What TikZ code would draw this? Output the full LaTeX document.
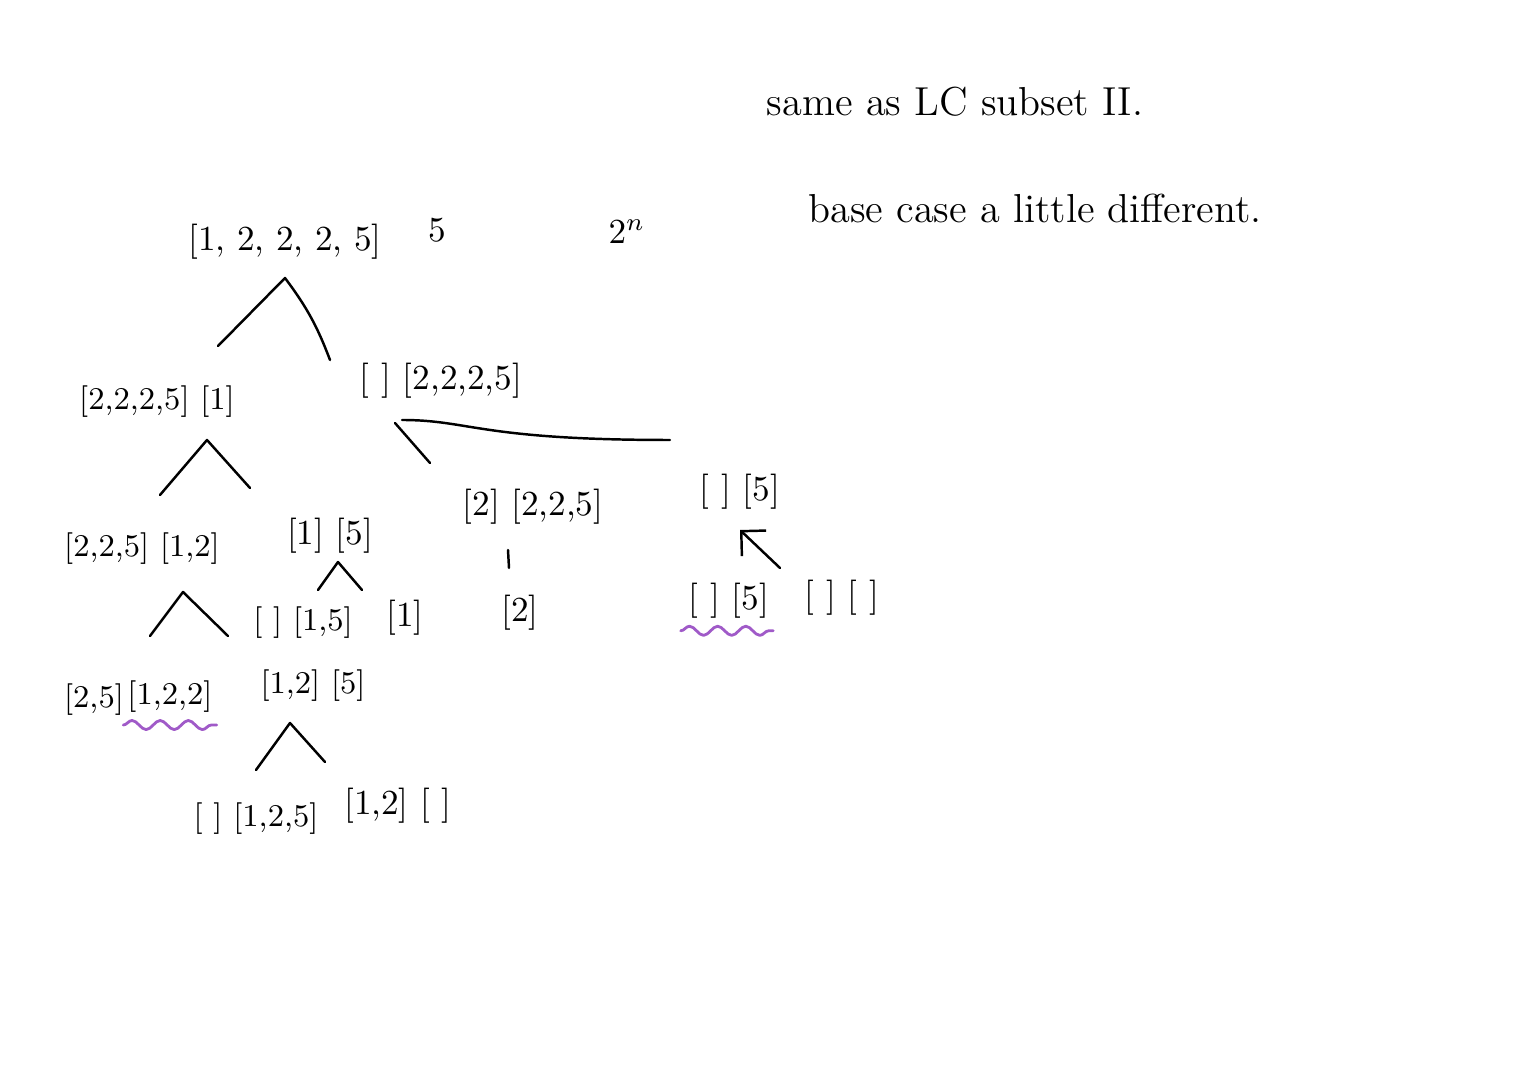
\documentclass[tikz,border=0pt]{standalone}
\usetikzlibrary{calc,arrows.meta,decorations.pathmorphing}
\definecolor{wavy}{RGB}{160,90,200}
\tikzset{
  lst/.style={inner sep=1pt,font=\fontsize{10}{12}\selectfont},
  small/.style={inner sep=1pt,font=\fontsize{9}{11}\selectfont},
  note/.style={inner sep=1pt,font=\fontsize{11.5}{14}\selectfont},
  edge/.style={line width=0.7pt},
  wave/.style={wavy,line width=0.8pt,decorate,decoration={snake,amplitude=1.3pt,segment length=8pt}}
}
\begin{document}
\begin{tikzpicture}[x=0.01cm,y=-0.01cm,line join=round,line cap=round,>={Straight Barb[length=5pt]}]
\useasboundingbox (0,0) rectangle (1527,1080);
% notes
\node[note](same) at (955,102) {same as LC subset II.};
\node[note](base) at (1035,208) {base case a little different.};
% root
\node[lst](root) at (285,242) {[1, 2, 2, 2, 5]};
\node[lst](len) at (437,230) {5};
\node[lst](cnt) at (627,232) {$2^n$};
% first split
\node[small](l) at (157,402) {[2,2,2,5] [1]};
\node[lst](r) at (441,381) {[~] [2,2,2,5]};
% second split
\node[small](ll) at (142,549) {[2,2,5] [1,2]};
\node[lst](lr) at (330,536) {[1] [5]};
\node[lst](rl) at (533,507) {[2] [2,2,5]};
\node[lst](rr) at (740,492) {[~] [5]};
% third split
\node[small](lll) at (94,700) {[2,5]};
\node[small](llm) at (170,697) {[1,2,2]};
\node[small](llr) at (313,686) {[1,2] [5]};
\node[small](lrl) at (303,623) {[~] [1,5]};
\node[lst](lrr) at (405,618) {[1]};
\node[lst](rll) at (520,613) {[2]};
\node[lst](rrl) at (729,601) {[~] [5]};
\node[lst](rrr) at (842,598) {[~] [~]};
% last split
\node[small](llrl) at (256,819) {[~] [1,2,5]};
\node[lst](llrr) at (398,806) {[1,2] [~]};
% stroke ends
\foreach \n/\x/\y in {rt/285/278,ra/218/346,rb/330/360,
  lt/207/440,la/160/495,lb/250/488,
  r0/395/423,r1/430/463,c0/402/420,c1/670/440,
  llt/183/592,lla/150/636,llb/228/636,
  lrt/338/562,lra/318/590,lrb/362/590,
  rlt/508/550,rlb/509/568,
  rra/780/568,rrb/740/530,
  llrt/290/723,llra/256/770,llrb/325/762}
  \coordinate(\n) at (\x,\y);
\draw[edge](ra)--(rt) to[bend left=8](rb);
\draw[edge](la)--(lt)--(lb);
\draw[edge](r0)--(r1);
\draw[edge](c0) .. controls (470,420) and (480,440) .. (c1);
\draw[edge](lla)--(llt)--(llb);
\draw[edge](lra)--(lrt)--(lrb);
\draw[edge](rlt)--(rlb);
\draw[edge,->](rra)--(rrb);
\draw[edge](llra)--(llrt)--(llrb);
% duplicates marked
\draw[wave]($(llm.south west)+(0,8)$)--($(llm.south east)+(0,8)$);
\draw[wave]($(rrl.south west)+(-4,8)$)--($(rrl.south east)+(0,8)$);
\end{tikzpicture}
\end{document}
